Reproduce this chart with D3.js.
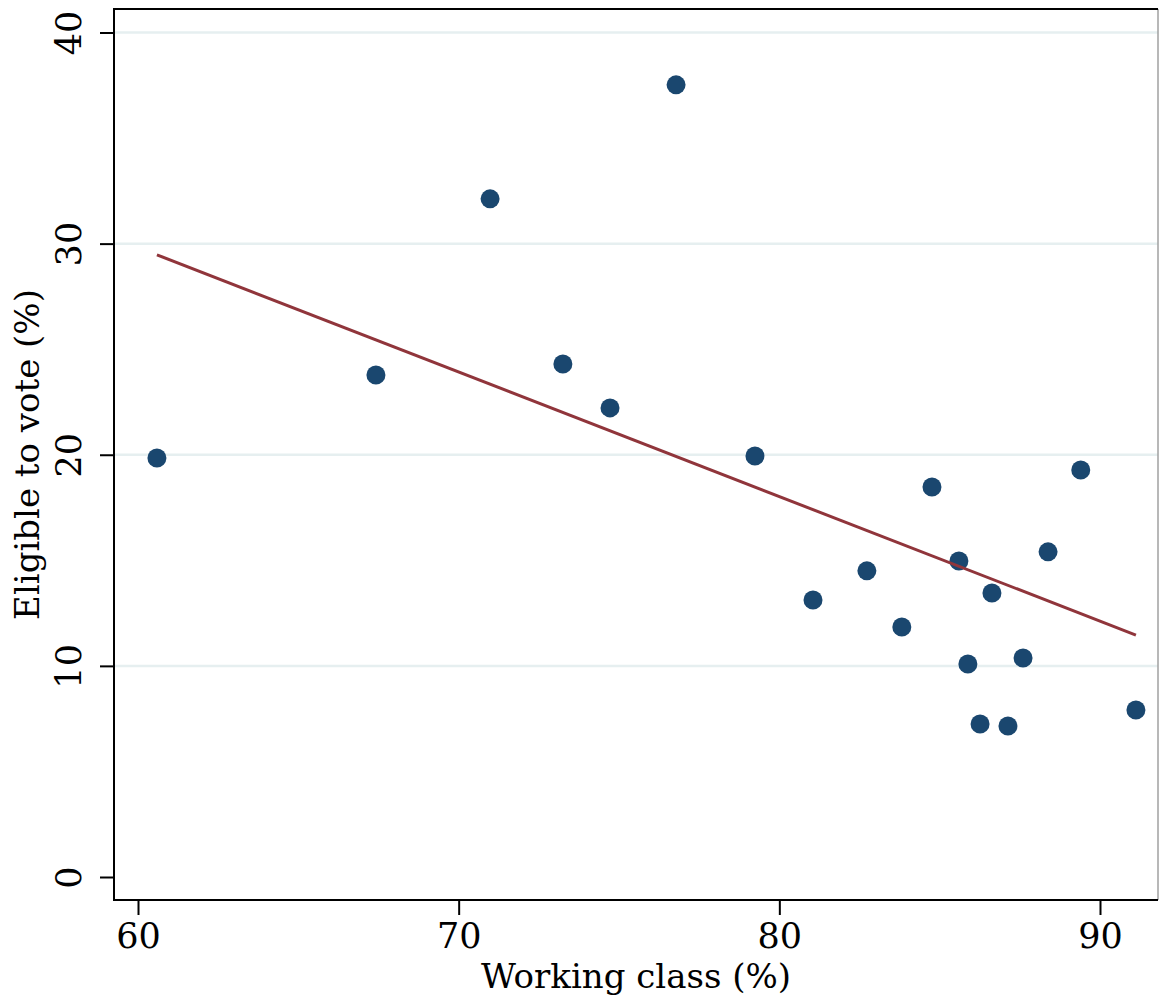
<!DOCTYPE html>
<html>
<head>
<meta charset="utf-8">
<script src="https://cdn.jsdelivr.net/npm/d3@7"></script>
<style>
  html, body { margin: 0; padding: 0; background: #ffffff; }
  svg { display: block; }
  text { font-family: "DejaVu Serif", "Liberation Serif", serif; fill: #000; }
</style>
</head>
<body>
<svg id="chart" width="1159" height="1002"></svg>
<script>
// ---- data ----
const workingClass = [60.59, 67.42, 70.98, 73.25, 74.72, 76.78, 79.24, 81.05, 82.73, 83.82,
                      84.76, 85.60, 85.88, 86.26, 86.63, 87.13, 87.60, 88.38, 89.40, 91.12];
const eligibleToVote = [19.85, 23.78, 32.12, 24.30, 22.22, 37.52, 19.94, 13.12, 14.50, 11.84,
                        18.47, 14.97, 10.09, 7.25, 13.45, 7.15, 10.37, 15.40, 19.28, 7.91];
const fitX = [60.59, 91.12];
const fitY = [29.47, 11.46];
const xTicks = [60, 70, 80, 90];
const yTicks = [0, 10, 20, 30, 40];
const yGrid = [10, 20, 30, 40];
const xTitle = "Working class (%)";
const yTitle = "Eligible to vote (%)";

// ---- layout ----
const svg = d3.select("#chart");
const frame = { left: 114, top: 9, right: 1158, bottom: 900 };

const x = d3.scaleLinear().domain([60, 90]).range([138, 1100]);
const y = d3.scaleLinear().domain([0, 40]).range([877, 32.5]);

// gridlines
svg.append("g").selectAll("line").data(yGrid).join("line")
  .attr("x1", frame.left).attr("x2", frame.right)
  .attr("y1", d => y(d)).attr("y2", d => y(d))
  .attr("stroke", "#e6eff0").attr("stroke-width", 2.5);

// points
const pts = workingClass.map((v, i) => ({ x: v, y: eligibleToVote[i] }));
svg.append("g").selectAll("circle").data(pts).join("circle")
  .attr("cx", d => x(d.x)).attr("cy", d => y(d.y)).attr("r", 9.5)
  .attr("fill", "#1a476f");

// fitted line
const fit = fitX.map((v, i) => [v, fitY[i]]);
svg.append("path")
  .attr("d", d3.line().x(d => x(d[0])).y(d => y(d[1]))(fit))
  .attr("fill", "none").attr("stroke", "#90353b").attr("stroke-width", 3);

// frame
svg.append("line").attr("x1", frame.right).attr("x2", frame.right)
  .attr("y1", frame.top).attr("y2", frame.bottom)
  .attr("stroke", "#a0a0a0").attr("stroke-width", 1.5);
svg.append("path")
  .attr("d", `M${frame.right},${frame.top}H${frame.left}V${frame.bottom}H${frame.right}`)
  .attr("fill", "none").attr("stroke", "#000").attr("stroke-width", 2);

// x axis
const xAxis = d3.axisBottom(x).tickValues(xTicks).tickSize(15).tickSizeOuter(0).tickPadding(8);
const gx = svg.append("g").attr("transform", `translate(0,${frame.bottom})`).call(xAxis);
gx.select(".domain").remove();
gx.selectAll(".tick line").attr("stroke", "#000").attr("stroke-width", 2);
gx.selectAll(".tick text").attr("font-size", 35).attr("font-family", '"DejaVu Serif", serif');

// y axis
const yAxis = d3.axisLeft(y).tickValues(yTicks).tickSize(14).tickSizeOuter(0);
const gy = svg.append("g").attr("transform", `translate(${frame.left},0)`).call(yAxis);
gy.select(".domain").remove();
gy.selectAll(".tick line").attr("stroke", "#000").attr("stroke-width", 2);
gy.selectAll(".tick text")
  .attr("font-size", 35).attr("font-family", '"DejaVu Serif", serif')
  .attr("text-anchor", "middle").attr("dy", null)
  .attr("x", null)
  .attr("transform", "translate(-33,0) rotate(-90)")
  .attr("dominant-baseline", "auto")
  .attr("y", 0);

// titles
svg.append("text")
  .attr("x", (frame.left + frame.right) / 2).attr("y", 988)
  .attr("text-anchor", "middle").attr("font-size", 34)
  .text(xTitle);
svg.append("text")
  .attr("transform", `translate(39,${(frame.top + frame.bottom) / 2}) rotate(-90)`)
  .attr("text-anchor", "middle").attr("font-size", 34)
  .text(yTitle);
</script>
</body>
</html>
